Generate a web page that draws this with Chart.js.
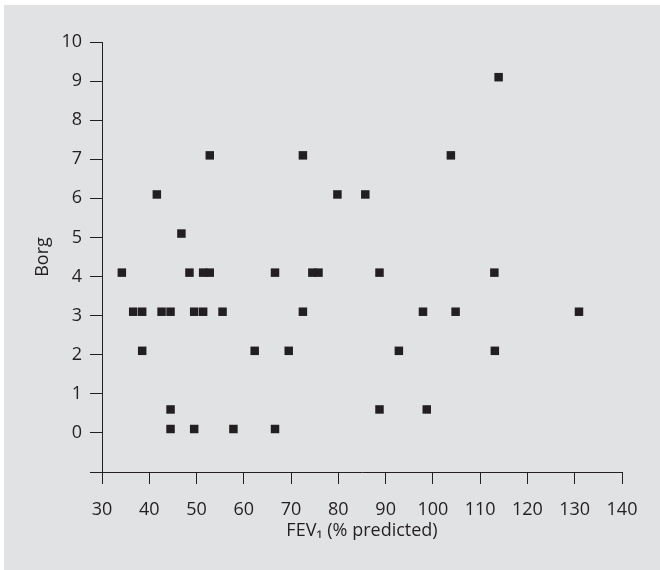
<!DOCTYPE html>
<html>
<head>
<meta charset="utf-8">
<script src="https://cdn.jsdelivr.net/npm/chart.js@4/dist/chart.umd.min.js"></script>
<style>
  html, body { margin: 0; padding: 0; background: #ffffff; }
  #wrap { width: 660px; height: 570px; position: relative; }
</style>
</head>
<body>
<div id="wrap"><canvas id="c" width="660" height="570"></canvas></div>
<script>
// FEV1 (% predicted) values
const fev1 = [34.2, 36.6, 38.5, 38.5, 41.6, 42.6, 44.5, 44.5, 44.5, 46.8,
              48.5, 49.5, 49.5, 51.4, 51.4, 52.8, 52.8, 55.5, 57.8, 62.3,
              66.6, 66.6, 69.5, 72.5, 72.5, 74.5, 75.8, 79.8, 85.7, 88.7,
              88.7, 92.8, 97.9, 98.7, 103.8, 104.8, 113.0, 113.1, 113.9, 130.9];
// Borg score values
const borg = [4.1, 3.1, 3.1, 2.1, 6.1, 3.1, 3.1, 0.6, 0.1, 5.1,
              4.1, 3.1, 0.1, 4.1, 3.1, 4.1, 7.1, 3.1, 0.1, 2.1,
              4.1, 0.1, 2.1, 7.1, 3.1, 4.1, 4.1, 6.1, 6.1, 4.1,
              0.6, 2.1, 3.1, 0.6, 7.1, 3.1, 4.1, 2.1, 9.1, 3.1];
const xTicks = [30, 40, 50, 60, 70, 80, 90, 100, 110, 120, 130, 140];
const yTicks = [0, 1, 2, 3, 4, 5, 6, 7, 8, 9, 10];
const xTitle = 'FEV\u2081 (% predicted)';
const yTitle = 'Borg';

const points = fev1.map((x, i) => ({ x: x, y: borg[i] }));
const ink = '#231f20';
const fontFamily = '"Open Sans", "Noto Sans", sans-serif';

const panelBg = {
  id: 'panelBg',
  beforeDraw(chart) {
    const ctx = chart.ctx;
    ctx.save();
    ctx.fillStyle = '#e1e2e4';
    ctx.fillRect(4, 5, chart.width - 4, chart.height - 5);
    ctx.restore();
  }
};

new Chart(document.getElementById('c'), {
  type: 'scatter',
  data: {
    datasets: [{
      data: points,
      pointStyle: 'rect',
      pointRadius: 6,
      pointHoverRadius: 6,
      backgroundColor: ink,
      borderWidth: 0,
      clip: false
    }]
  },
  options: {
    responsive: false,
    animation: false,
    devicePixelRatio: 1,
    layout: { padding: { left: 0, top: 42, right: 38, bottom: 0 } },
    plugins: { legend: { display: false }, tooltip: { enabled: false } },
    scales: {
      x: {
        type: 'linear',
        min: 30, max: 140,
        afterBuildTicks(scale) { scale.ticks = xTicks.map(v => ({ value: v })); },
        afterFit(scale) { scale.height = 98; },
        border: { display: true, color: ink, width: 1 },
        grid: { drawOnChartArea: false, drawTicks: true, tickLength: 12, color: ink, lineWidth: 1 },
        ticks: { color: ink, font: { family: fontFamily, size: 18 }, padding: 15, maxRotation: 0, autoSkip: false },
        title: { display: true, text: xTitle, color: ink, font: { family: fontFamily, size: 18 }, padding: { top: 0, bottom: 28 } }
      },
      y: {
        type: 'linear',
        min: -1, max: 10,
        afterBuildTicks(scale) { scale.ticks = [-1].concat(yTicks).map(v => ({ value: v })); },
        afterFit(scale) { scale.width = 102; },
        border: { display: true, color: ink, width: 1 },
        grid: { drawOnChartArea: false, drawTicks: true, tickLength: 12, color: ink, lineWidth: 1 },
        ticks: {
          color: ink, font: { family: fontFamily, size: 18 }, padding: 8, autoSkip: false,
          callback: (v) => (v < 0 ? '' : String(v))
        },
        title: { display: true, text: yTitle, color: ink, font: { family: fontFamily, size: 18 }, padding: { top: 32, bottom: 0 } }
      }
    }
  },
  plugins: [panelBg]
});
</script>
</body>
</html>
